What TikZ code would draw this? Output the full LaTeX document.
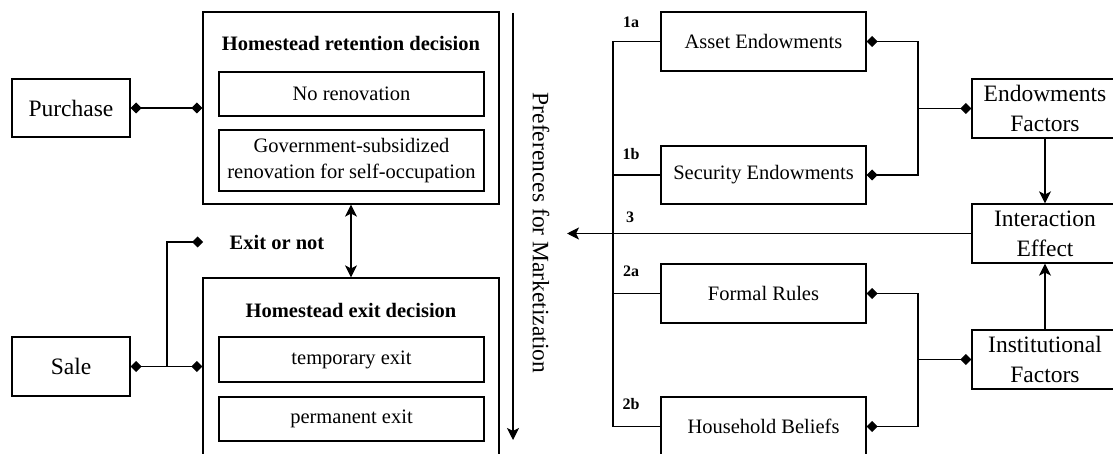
\documentclass[tikz,border=0pt]{standalone}
\usepackage{fontspec}
\setmainfont{Liberation Serif}
\usetikzlibrary{arrows.meta}
\tikzset{
  dmd/.tip={Diamond[length=11pt,width=11pt]},
  stl/.tip={Stealth[length=12pt,width=12pt,inset=3pt]}
}
\begin{document}
\begin{tikzpicture}[x=1pt,y=-1pt,
  box/.style={draw, line width=1.2pt, inner sep=0pt, align=center},
  bigtxt/.style={font=\fontsize{23.5}{30}\selectfont},
  midtxt/.style={font=\fontsize{20.5}{26}\selectfont},
  ttl/.style={font=\fontsize{20.5}{24}\selectfont\bfseries, inner sep=0pt},
  lbl/.style={font=\fontsize{16}{18}\selectfont\bfseries, inner sep=0pt},
  conn/.style={line width=1.1pt}
]
\useasboundingbox (0,0) rectangle (1113,454);
\clip (0,0) rectangle (1113,454);

% ---------- left part ----------
\node[box, bigtxt, minimum width=118pt, minimum height=58pt] (purchase) at (71,108) {Purchase};
\node[box, bigtxt, minimum width=118pt, minimum height=59pt] (sale) at (71,366.5) {Sale};

\node[box, minimum width=296pt, minimum height=192pt] (ret) at (351,108) {};
\node[ttl] (retT) at (351,43) {Homestead retention decision};
\node[box, midtxt, minimum width=265pt, minimum height=44pt] (noren) at (351.5,94) {No renovation};
\node[box, midtxt, minimum width=265pt, minimum height=61pt] (gov) at (351.5,160.5) {Government-subsidized\\renovation for self-occupation};

\node[box, minimum width=296pt, minimum height=192pt] (exitb) at (351,374) {};
\node[ttl] (exitT) at (351,310) {Homestead exit decision};
\node[box, midtxt, minimum width=265pt, minimum height=45pt] (temp) at (351.5,359.5) {temporary exit};
\node[box, midtxt, minimum width=265pt, minimum height=44pt] (perm) at (351.5,419) {permanent exit};

\node[ttl] (exitornot) at (277,242) {Exit or not};

\draw[conn, dmd-dmd] (purchase.east) -- (ret.west |- purchase.east);
\draw[conn, dmd-dmd] (sale.east) -- (exitb.west |- sale.east);
\coordinate (br) at (167,366.5);
\coordinate (brend) at (203,242);
\draw[conn, -dmd] (br) |- (brend);
\draw[conn, stl-stl] (ret.south) -- (exitb.north);

\coordinate (vtop) at (513,13);
\coordinate (vbot) at (513,440);
\draw[conn, -stl] (vtop) -- (vbot);
\node[bigtxt, rotate=-90, inner sep=0pt] (pref) at (541,233) {Preferences for Marketization};

% ---------- right part ----------
\node[box, midtxt, minimum width=205pt, minimum height=59pt] (asset) at (763.5,41.5) {Asset Endowments};
\node[box, midtxt, minimum width=205pt, minimum height=58pt] (secur) at (763.5,175) {Security Endowments};
\node[box, midtxt, minimum width=205pt, minimum height=59pt] (formal) at (763.5,293.5) {Formal Rules};
\node[box, midtxt, minimum width=205pt, minimum height=59pt] (house) at (763.5,426.5) {Household Beliefs};

\node[box, bigtxt, minimum width=146pt, minimum height=59pt] (endow) at (1045,108.5) {Endowments\\Factors};
\node[box, bigtxt, minimum width=146pt, minimum height=59pt] (inter) at (1045,233.5) {Interaction\\Effect};
\node[box, bigtxt, minimum width=146pt, minimum height=59pt] (inst) at (1045,359.5) {Institutional\\Factors};

\node[lbl] (l1a) at (631,22) {1a};
\node[lbl] (l1b) at (631,154) {1b};
\node[lbl] (l3) at (630,217) {3};
\node[lbl] (l2a) at (631,271) {2a};
\node[lbl] (l2b) at (631,404) {2b};

% bus on the left of the factor boxes
\coordinate (busT) at (613,41.5);
\coordinate (busB) at (613,426.5);
\draw[conn] (asset.west) -- (busT) -- (busB) -- (house.west);
\draw[conn] (secur.west) -- (secur.west -| busT);
\draw[conn] (formal.west) -- (formal.west -| busT);

% interaction effect arrow
\coordinate (tip3) at (567,233.5);
\draw[conn, -stl] (inter.west) -- (tip3);

% junctions on the right
\coordinate (jA) at (918,108.5);
\coordinate (jB) at (918,359.5);
\draw[conn, dmd-] (asset.east) -| (jA);
\draw[conn, dmd-] (secur.east) -| (jA);
\draw[conn, -dmd] (jA) -- (endow.west);
\draw[conn, dmd-] (formal.east) -| (jB);
\draw[conn, dmd-] (house.east) -| (jB);
\draw[conn, -dmd] (jB) -- (inst.west);

\draw[conn, -stl] (endow.south) -- (inter.north);
\draw[conn, -stl] (inst.north) -- (inter.south);
\end{tikzpicture}
\end{document}
